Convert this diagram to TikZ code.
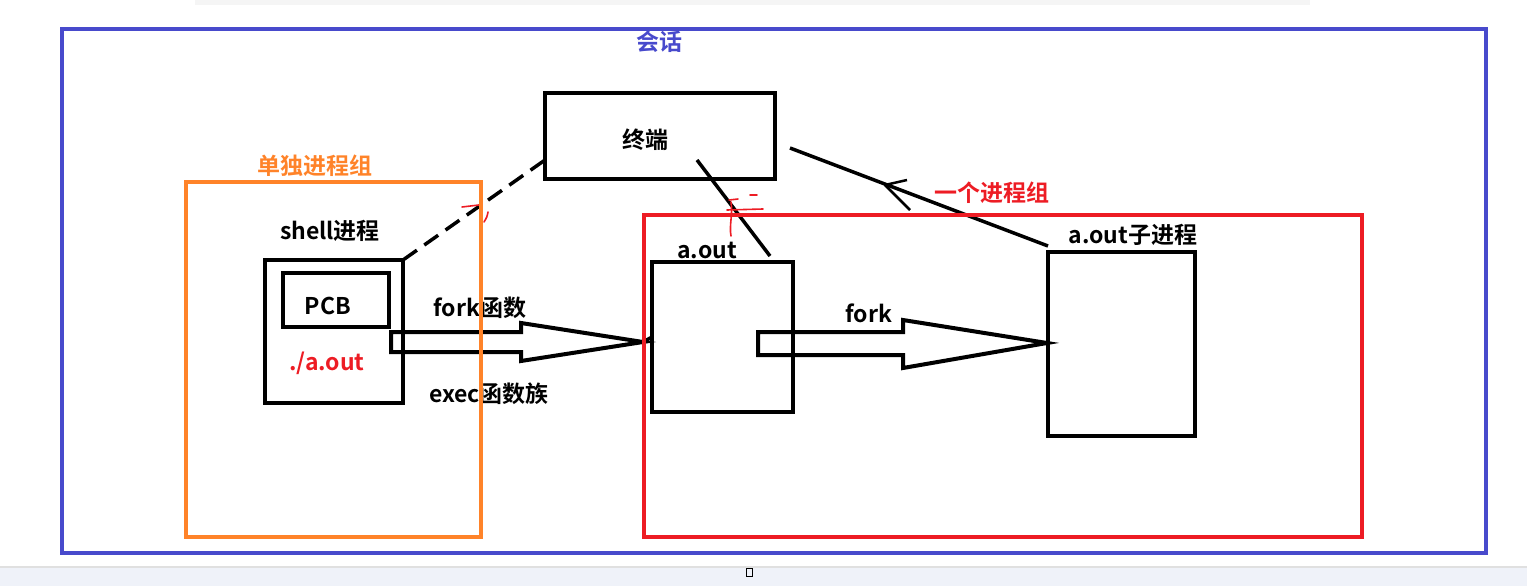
\documentclass[tikz,border=0pt]{standalone}
\usepackage{fontspec}
\setmainfont{Noto Sans CJK SC}[BoldFont={Noto Sans CJK SC Bold}]
\definecolor{sessblue}{RGB}{72,74,204}
\definecolor{grporange}{RGB}{255,131,41}
\definecolor{grpred}{RGB}{237,28,36}
\definecolor{bandbg}{RGB}{239,242,249}
\begin{document}
\begin{tikzpicture}[x=1pt,y=-1pt,
  box/.style={draw=black,line width=4,inner sep=0,outer sep=0,rectangle},
  lbl/.style={font=\bfseries\fontsize{23}{23}\selectfont,inner sep=0},
  conn/.style={draw=black,line width=3.5},
  hollow/.style={draw=black,line width=4,line join=miter},
  scrib/.style={draw=grpred,line width=1.6,line cap=round}]
\useasboundingbox (0,0) rectangle (1527,586);
% screenshot chrome
\fill[black!4] (195,0) rectangle (1310,5);
\fill[bandbg] (0,567) rectangle (1527,586);
\draw[black!12,line width=1.5] (0,567) -- (1527,567);
\node[draw=black,line width=1,inner sep=0,minimum width=6,minimum height=8] (sq) at (749,572) {};
% boxes
\node[box,minimum width=230,minimum height=86] (term) at (660,136) {};
\node[lbl] (termlbl) at (645,140) {终端};
\node[box,minimum width=138,minimum height=143] (shell) at (334,331.5) {};
\node[box,minimum width=106,minimum height=54] (pcb) at (336,300) {};
\node[lbl] (pcblbl) at (328,306) {PCB};
\node[lbl,text=grpred] (aoutcmd) at (327,363) {./a.out};
\node[lbl] (shelllbl) at (330,231) {shell进程};
\node[box,minimum width=141,minimum height=150] (aout) at (722.5,337) {};
\node[lbl] (aoutlbl) at (707,250) {a.out};
\node[box,minimum width=147,minimum height=184] (child) at (1121.5,344) {};
\node[lbl] (childlbl) at (1133,235) {a.out子进程};
% connector points
\coordinate (tl) at (545,160);
\coordinate (tm) at (697,160);
\coordinate (tr) at (790,148);
\coordinate (aouttop) at (770,256);
\coordinate (childtop) at (1048,246);
\draw[conn,dash pattern=on 17 off 9] (shell.north east) -- (tl);
\draw[conn] (tm) -- (aouttop);
\draw[conn] (childtop) -- (tr);
\draw[black,line width=2.5,line join=round] (907,180) -- (885,185) -- (910,210);
% hollow arrows
\draw[hollow] (391,332) -- (521,332) -- (521,323) -- (643,342) -- (521,361) -- (521,352) -- (391,352) -- cycle;
\draw[conn] (643,342) -- (aout.west);
\draw[hollow] (758,332) -- (903,332) -- (903,320) -- (1047,343) -- (903,368) -- (903,355) -- (758,355) -- cycle;
\node[lbl] (forkfn) at (480,308) {fork函数};
\node[lbl] (execfn) at (489,394) {exec函数族};
\node[lbl] (fork) at (869,313) {fork};
% red scribbles
\draw[scrib] (462,207) -- (479,205);
\draw[scrib] (488,212) .. controls (487,217) .. (484,222);
\draw[scrib] (729,200) -- (738,199);
\draw[scrib] (727,210) -- (763,209);
\draw[scrib] (750,195) -- (757,195);
\draw[scrib] (731,202) .. controls (733,215) and (729,225) .. (731,236);
% groups
\draw[grporange,line width=3.5] (186,182) rectangle (481,537);
\node[lbl,text=grporange] (orglbl) at (315,166) {单独进程组};
\draw[grpred,line width=3.5] (644,215) rectangle (1362,537);
\node[lbl,text=grpred] (redlbl) at (992,193) {一个进程组};
\draw[sessblue,line width=4] (62,29) rectangle (1486,553);
\node[lbl,text=sessblue] (sesslbl) at (659,42) {会话};
\end{tikzpicture}
\end{document}
